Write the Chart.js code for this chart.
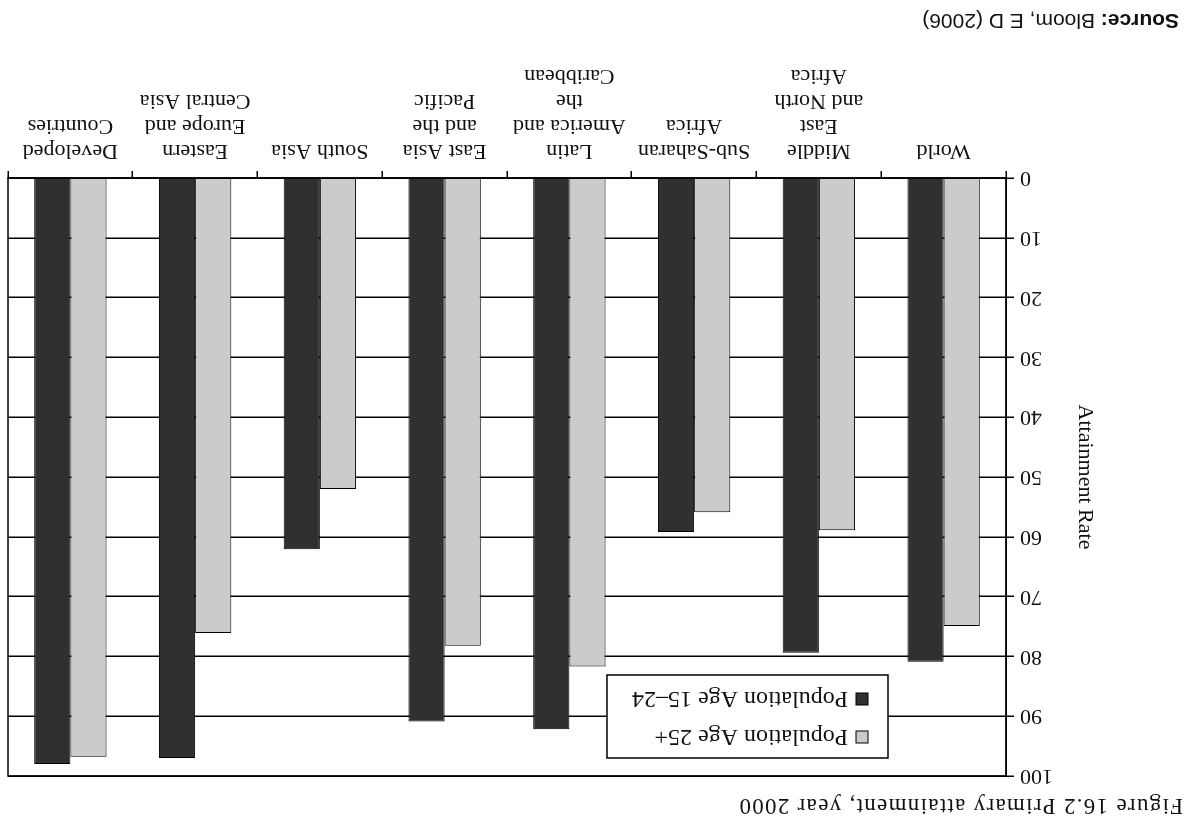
<!DOCTYPE html>
<html>
<head>
<meta charset="utf-8">
<script src="https://cdn.jsdelivr.net/npm/chart.js@4.4.0/dist/chart.umd.min.js"></script>
<style>
html, body { margin: 0; padding: 0; background: #fff; }
/* the reference page is photographed upside down, so the whole sheet is turned */
#page { position: relative; width: 1196px; height: 824px; overflow: hidden; transform: rotate(180deg); background: #fff; }
#title { position: absolute; left: 13px; top: 5px; font: 23px/26px "Liberation Serif", serif; letter-spacing: 1.3px; color: #111; }
#source { position: absolute; left: 17px; top: 791px; font: 21px/24px "Liberation Sans", sans-serif; color: #111; }
#chart { position: absolute; left: 0; top: 0; }
</style>
</head>
<body>
<div id="page">
  <canvas id="chart" width="1196" height="824"></canvas>
  <div id="title">Figure 16.2 Primary attainment, year 2000</div>
  <div id="source"><b>Source:</b> Bloom, E D (2006)</div>
</div>
<script>
// data
const categories = [
  ['World'],
  ['Middle', 'East', 'and North', 'Africa'],
  ['Sub-Saharan', 'Africa'],
  ['Latin', 'America and', 'the', 'Caribbean'],
  ['East Asia', 'and the', 'Pacific'],
  ['South Asia'],
  ['Eastern', 'Europe and', 'Central Asia'],
  ['Developed', 'Countries']
];
const age25plus = [74.9, 58.9, 55.9, 81.7, 78.2, 52.0, 76.1, 96.8];
const age15to24 = [80.9, 79.4, 59.2, 92.2, 90.9, 62.1, 97.0, 98.0];
const seriesNames = ['Population Age 25+', 'Population Age 15\u201324'];
const yMin = 0, yMax = 100, yStep = 10;
const yTitle = 'Attainment Rate';

const serif = '"Liberation Serif", serif';

// box round the plot
let frame = {
  id: 'frame',
  afterDraw(chart) {
    let a = chart.chartArea, ctx = chart.ctx;
    ctx.save();
    ctx.strokeStyle = '#000';
    ctx.lineWidth = 1.5;
    ctx.strokeRect(a.left, a.top, a.right - a.left, a.bottom - a.top);
    ctx.restore();
  }
};

// legend sits inside the plot, top left
let boxLegend = {
  id: 'boxLegend',
  afterDraw(chart) {
    let a = chart.chartArea, ctx = chart.ctx;
    let x = a.left + 118, y = a.top + 18, w = 281, h = 83;
    ctx.save();
    ctx.fillStyle = '#fff';
    ctx.fillRect(x, y, w, h);
    ctx.strokeStyle = '#000';
    ctx.lineWidth = 1.5;
    ctx.strokeRect(x, y, w, h);
    chart.data.datasets.forEach(function (ds, i) {
      let ry = y + 21 + i * 38;
      ctx.fillStyle = ds.backgroundColor;
      ctx.fillRect(x + 20, ry - 6, 12, 12);
      ctx.lineWidth = 1;
      ctx.strokeRect(x + 20, ry - 6, 12, 12);
      ctx.fillStyle = '#111';
      ctx.font = '24px ' + serif;
      ctx.textBaseline = 'middle';
      ctx.fillText(ds.label, x + 40, ry + 1);
    });
    ctx.restore();
  }
};

let ctx = document.getElementById('chart').getContext('2d');
let chart = new Chart(ctx, {
  type: 'bar',
  data: {
    labels: categories,
    datasets: [{
      label: seriesNames[0],
      data: age25plus,
      backgroundColor: '#cbcbcb',
      borderColor: '#000',
      borderWidth: 1
    }, {
      label: seriesNames[1],
      data: age15to24,
      backgroundColor: '#303030',
      borderColor: '#000',
      borderWidth: 1
    }]
  },
  options: {
    responsive: false,
    animation: false,
    layout: { padding: { left: 98, top: 48, right: 8, bottom: 0 } },
    datasets: { bar: { barPercentage: 1, categoryPercentage: 0.58 } },
    plugins: {
      legend: { display: false },
      tooltip: { enabled: false }
    },
    scales: {
      x: {
        afterFit: function (scale) { scale.height = 178; },
        grid: { offset: true, drawOnChartArea: false, drawTicks: true, tickLength: 7, color: '#000', lineWidth: 1.5 },
        border: { display: true, color: '#000', width: 1.5 },
        ticks: {
          color: '#111',
          autoSkip: false,
          maxRotation: 0,
          minRotation: 0,
          padding: 8,
          font: { family: serif, size: 22, lineHeight: 25 / 22 }
        }
      },
      y: {
        min: yMin,
        max: yMax,
        afterFit: function (scale) { scale.width = 92; },
        grid: { color: '#000', lineWidth: 1.5, tickLength: 8 },
        border: { display: true, color: '#000', width: 1.5 },
        ticks: {
          stepSize: yStep,
          color: '#111',
          padding: 6,
          font: { family: serif, size: 22 }
        },
        title: {
          display: true,
          text: yTitle,
          color: '#111',
          padding: { top: 0, bottom: 0 },
          font: { family: serif, size: 22 }
        }
      }
    }
  },
  plugins: [frame, boxLegend]
});
</script>
</body>
</html>
